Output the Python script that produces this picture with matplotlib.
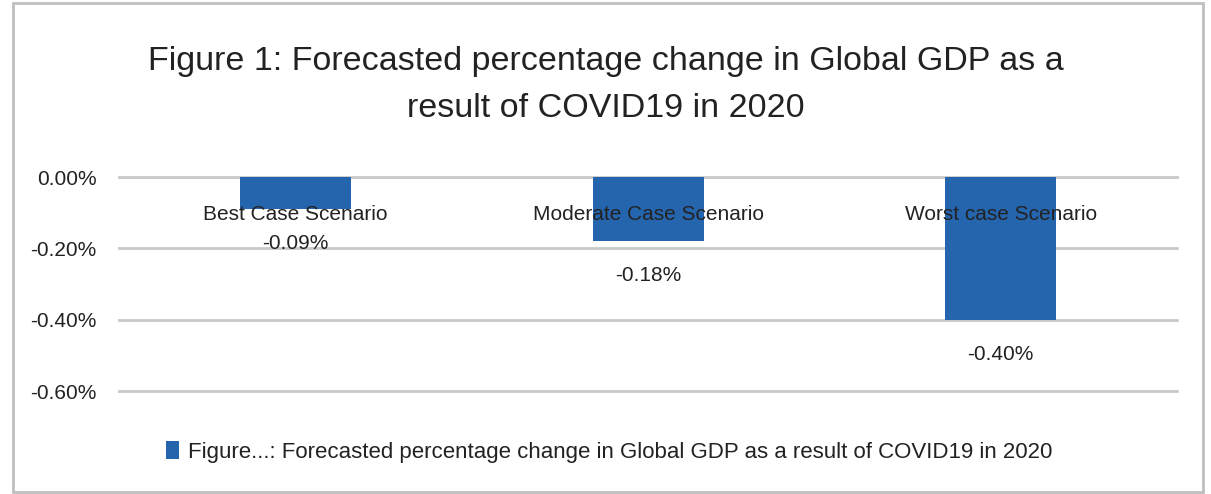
import matplotlib
matplotlib.use("Agg")
import matplotlib.pyplot as plt
from matplotlib.patches import Rectangle
from matplotlib.ticker import FuncFormatter

plt.rcParams['font.family'] = ['Liberation Sans', 'DejaVu Sans']

scenarios = ["Best Case Scenario", "Moderate Case Scenario", "Worst case Scenario"]
gdp_change = [-0.09, -0.18, -0.40]
yticks = [0.0, -0.2, -0.4, -0.6]
title = "Figure 1: Forecasted percentage change in Global GDP as a\nresult of COVID19 in 2020"
series_name = "Figure...: Forecasted percentage change in Global GDP as a result of COVID19 in 2020"

bar_color = "#2565AE"
grid_color = "#C9C9C9"
text_color = "#222222"

fig = plt.figure(figsize=(12.11, 4.94), dpi=100)
ax = fig.add_axes([0.0983, 0.2085, 0.8737, 0.4332])

x = range(len(scenarios))
bars = ax.bar(x, gdp_change, width=0.315, color=bar_color, zorder=2, label=series_name)

ax.set_xlim(-0.5, len(scenarios) - 0.5)
ax.set_ylim(-0.6, 0.0)
ax.set_yticks(yticks)
ax.yaxis.set_major_formatter(FuncFormatter(lambda v, p: "{:.2f}%".format(v)))
ax.tick_params(axis='y', length=0, labelsize=15, labelcolor=text_color, pad=16)
ax.set_xticks([])
for s in ax.spines.values():
    s.set_visible(False)
ax.grid(axis='y', color=grid_color, linewidth=2, zorder=0)
ax.set_axisbelow(True)
for gl in ax.get_ygridlines():
    gl.set_clip_on(False)

# category labels sit next to the zero axis
for i, name in enumerate(scenarios):
    ax.text(i, -0.105, name, ha='center', va='center', fontsize=15, color=text_color, zorder=3)

# value labels below bar ends
for i, v in enumerate(gdp_change):
    ax.annotate("{:.2f}%".format(v), (i, v), xytext=(0, -18), textcoords='offset points',
                ha='center', va='top', fontsize=15, color=text_color, zorder=3)

fig.text(0.5, 0.828, title, ha='center', va='center', fontsize=24.5, color=text_color,
         linespacing=1.65)

fig.legend(handles=[bars], labels=[series_name], loc='center', bbox_to_anchor=(0.503, 0.085),
           frameon=False, fontsize=16, handlelength=0.55, handleheight=0.85, handletextpad=0.4,
           labelcolor=text_color)

fig.patches.append(Rectangle((0.011, 0.004), 0.982, 0.99, transform=fig.transFigure,
                             fill=False, edgecolor="#BFBFBF", linewidth=2))

fig.savefig("out.png", dpi=100)
